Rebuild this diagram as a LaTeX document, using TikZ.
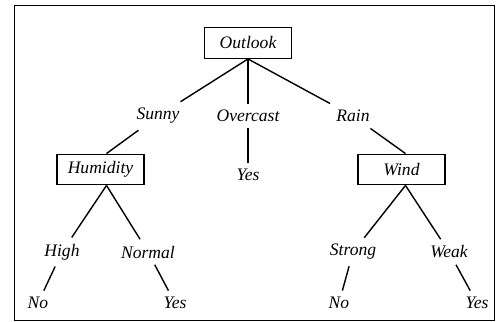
\documentclass[tikz,border=0pt]{standalone}
\usepackage{fontspec}
\setmainfont{Liberation Serif}
\usetikzlibrary{positioning}

\begin{document}
\begin{tikzpicture}[on grid, thick, every node/.style={font=\itshape}, attr/.style={draw, rectangle, minimum width=1.74cm, minimum height=0.61cm, inner sep=1pt}]
\useasboundingbox (0,0) rectangle (9.92,-6.44);
\draw[line width=1.1pt] (0.29,-0.11) rectangle (9.89,-6.41);
\node[attr] (outlook) at (4.96,-0.86) {Outlook};
\node[below left=1.46cm and 1.8cm of outlook] (sunny) {Sunny};
\node[below=1.46cm of outlook] (overcast) {Overcast};
\node[below right=1.46cm and 2.1cm of outlook] (rain) {Rain};
\node[attr, below left=1.07cm and 1.15cm of sunny] (humidity) {Humidity};
\node[below=1.18cm of overcast] (yesover) {Yes};
\node[attr, below right=1.07cm and 0.97cm of rain] (wind) {Wind};
\node[below left=1.65cm and 0.77cm of humidity] (high) {High};
\node[below right=1.65cm and 0.95cm of humidity] (normal) {Normal};
\node[below left=1.65cm and 0.97cm of wind] (strong) {Strong};
\node[below right=1.65cm and 0.95cm of wind] (weak) {Weak};
\node[below left=1.02cm and 0.48cm of high] (hno) {No};
\node[below right=1.02cm and 0.54cm of normal] (hyes) {Yes};
\node[below left=1.02cm and 0.28cm of strong] (wno) {No};
\node[below right=1.02cm and 0.56cm of weak] (wyes) {Yes};
\draw (outlook.south) -- (sunny);
\draw (outlook.south) -- (overcast);
\draw (outlook.south) -- (rain);
\draw (sunny) -- ([xshift=0.12cm]humidity.north);
\draw (overcast) -- (yesover);
\draw (rain) -- ([xshift=0.08cm]wind.north);
\draw ([xshift=0.12cm]humidity.south) -- (high);
\draw ([xshift=0.12cm]humidity.south) -- (normal);
\draw ([xshift=0.08cm]wind.south) -- (strong);
\draw ([xshift=0.08cm]wind.south) -- (weak);
\draw (high) -- (hno);
\draw (normal) -- (hyes);
\draw (strong) -- (wno);
\draw (weak) -- (wyes);
\end{tikzpicture}
\end{document}
